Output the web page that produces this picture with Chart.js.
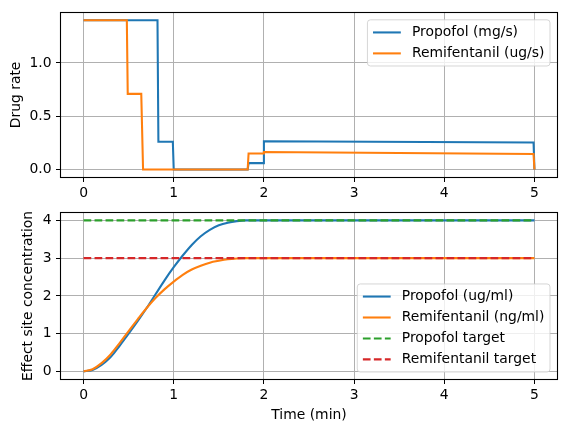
<!DOCTYPE html>
<html>
<head>
<meta charset="utf-8">
<script src="https://cdn.jsdelivr.net/npm/chart.js@4.4.0/dist/chart.umd.min.js"></script>
<style>
  html, body { margin: 0; padding: 0; background: #fff; }
  #wrap { position: relative; width: 567px; height: 432px; }
  canvas { position: absolute; left: 0; }
  #rateChart { top: 0; }
  #ceChart { top: 200px; }
</style>
</head>
<body>
<div id="wrap">
  <canvas id="rateChart" width="567" height="200"></canvas>
  <canvas id="ceChart" width="567" height="232"></canvas>
</div>
<script>
// --- Datos ---
const timeTicks = [0, 1, 2, 3, 4, 5];
const rateTicks = [0, 0.5, 1.0];
const ceTicks = [0, 1, 2, 3, 4];

// Tasas de infusion (escalones)
const propRateTime = [0, 0.82, 0.83, 0.99, 1.0, 1.82, 1.83, 1.99, 2.0, 4.99, 5.0];
const propRate     = [1.4, 1.4, 0.26, 0.26, 0, 0, 0.06, 0.06, 0.265, 0.253, 0];
const remiRateTime = [0, 0.48, 0.49, 0.64, 0.66, 1.82, 1.83, 1.99, 2.0, 4.99, 5.0];
const remiRate     = [1.4, 1.4, 0.71, 0.71, 0, 0, 0.15, 0.15, 0.165, 0.145, 0];

// Concentracion en sitio efecto
const ceTime = [0, 0.1, 0.2, 0.3, 0.4, 0.5, 0.6, 0.7, 0.8, 0.9, 1.0,
                1.1, 1.2, 1.3, 1.4, 1.5, 1.6, 1.7, 1.8, 1.9, 2.0, 5.0];
const propCe = [0, 0.04, 0.17, 0.38, 0.68, 1.0, 1.33, 1.68, 2.05, 2.42, 2.76,
                3.07, 3.35, 3.58, 3.75, 3.87, 3.94, 3.98, 4.0, 4.0, 4.0, 4.0];
const remiCe = [0, 0.06, 0.22, 0.45, 0.75, 1.07, 1.38, 1.68, 1.95, 2.18, 2.38,
                2.56, 2.70, 2.80, 2.88, 2.93, 2.97, 2.99, 3.0, 3.0, 3.0, 3.0];

const targetTime = [0, 5];
const propTarget = [4, 4];
const remiTarget = [3, 3];

const BLUE = '#1f77b4', ORANGE = '#ff7f0e', GREEN = '#2ca02c', RED = '#d62728';
const FONT_SIZE = 13.9;

Chart.defaults.font.family = '"DejaVu Sans", sans-serif';
Chart.defaults.font.size = FONT_SIZE;
Chart.defaults.color = '#000';

function zip(xs, ys) {
  return xs.map((x, i) => ({ x: x, y: ys[i] }));
}

// marco negro alrededor del area (como los spines de matplotlib)
const mplFrame = {
  id: 'mplFrame',
  afterDatasetsDraw(chart) {
    const { ctx, chartArea: a } = chart;
    ctx.save();
    ctx.strokeStyle = '#000';
    ctx.lineWidth = 1.1;
    ctx.strokeRect(Math.round(a.left) - 0.5, Math.round(a.top) - 0.5,
      Math.round(a.right - a.left) + 1, Math.round(a.bottom - a.top) + 1);
    ctx.restore();
  }
};

// leyenda dibujada dentro del area, estilo matplotlib
const mplLegend = {
  id: 'mplLegend',
  afterDraw(chart, args, opts) {
    const { ctx, chartArea: a } = chart;
    const sets = chart.data.datasets;
    const pad = 5.6, handle = 27.8, gap = 11.1, textH = 14, spacing = 6.95;
    ctx.save();
    ctx.font = FONT_SIZE + 'px "DejaVu Sans"';
    const textW = Math.max(...sets.map(d => ctx.measureText(d.label).width));
    const w = pad + handle + gap + textW + pad;
    const h = 2 * pad + sets.length * textH + (sets.length - 1) * spacing;
    const x0 = a.right - 7 - w;
    const y0 = opts.loc === 'upper right' ? a.top + 7 : a.bottom - 7 - h;

    ctx.beginPath();
    ctx.roundRect(x0, y0, w, h, 3);
    ctx.fillStyle = 'rgba(255,255,255,0.8)';
    ctx.fill();
    ctx.strokeStyle = 'rgba(204,204,204,0.8)';
    ctx.lineWidth = 1;
    ctx.stroke();

    sets.forEach((d, i) => {
      const cy = y0 + pad + textH / 2 + i * (textH + spacing);
      ctx.beginPath();
      ctx.setLineDash(d.borderDash || []);
      ctx.strokeStyle = d.borderColor;
      ctx.lineWidth = d.borderWidth;
      ctx.moveTo(x0 + pad, cy);
      ctx.lineTo(x0 + pad + handle, cy);
      ctx.stroke();
      ctx.setLineDash([]);
      ctx.fillStyle = '#000';
      ctx.textBaseline = 'middle';
      ctx.fillText(d.label, x0 + pad + handle + gap, cy);
    });
    ctx.restore();
  }
};

function lineSet(label, xs, ys, color, dashed, smooth, idx) {
  return {
    label: label,
    data: zip(xs, ys),
    borderColor: color,
    backgroundColor: color,
    borderWidth: 2.08,
    borderDash: dashed ? [7.7, 3.3] : [],
    pointRadius: 0,
    tension: 0,
    cubicInterpolationMode: smooth ? 'monotone' : 'default',
    fill: false,
    order: -idx // los ultimos encima, como en matplotlib
  };
}

function buildChart(id, datasets, cfg) {
  const ctx = document.getElementById(id);
  return new Chart(ctx, {
    type: 'line',
    data: { datasets: datasets },
    plugins: [mplFrame, mplLegend],
    options: {
      responsive: false,
      animation: false,
      layout: { padding: { top: cfg.padTop, right: 10, left: 0, bottom: 0 } },
      scales: {
        x: {
          type: 'linear',
          min: -0.25,
          max: 5.25,
          afterBuildTicks: axis => { axis.ticks = timeTicks.map(v => ({ value: v })); },
          afterFit: scale => { scale.height = cfg.xHeight; },
          ticks: { padding: 3, maxRotation: 0, callback: v => String(v) },
          grid: { color: '#b0b0b0', lineWidth: 1, tickColor: '#000', tickLength: 5 },
          border: { display: false },
          title: {
            display: !!cfg.xTitle,
            text: cfg.xTitle || '',
            padding: { top: 0, bottom: 8.7 }
          }
        },
        y: {
          type: 'linear',
          min: cfg.yMin,
          max: cfg.yMax,
          afterBuildTicks: axis => { axis.ticks = cfg.yTicks.map(v => ({ value: v })); },
          afterFit: scale => { scale.width = 61; },
          ticks: { padding: 4.5, callback: cfg.yFormat },
          grid: { color: '#b0b0b0', lineWidth: 1, tickColor: '#000', tickLength: 5 },
          border: { display: false },
          title: {
            display: true,
            text: cfg.yTitle,
            padding: { top: cfg.yTitlePad, bottom: 0 }
          }
        }
      },
      plugins: {
        legend: { display: false },
        tooltip: { enabled: false },
        mplLegend: { loc: cfg.legendLoc }
      }
    }
  });
}

buildChart('rateChart', [
  lineSet('Propofol (mg/s)', propRateTime, propRate, BLUE, false, false, 0),
  lineSet('Remifentanil (ug/s)', remiRateTime, remiRate, ORANGE, false, false, 1)
], {
  padTop: 9, xHeight: 23, yMin: -0.07, yMax: 1.47, yTicks: rateTicks,
  yFormat: v => v.toFixed(1), yTitle: 'Drug rate', yTitlePad: 7.7,
  legendLoc: 'upper right'
});

buildChart('ceChart', [
  lineSet('Propofol (ug/ml)', ceTime, propCe, BLUE, false, true, 0),
  lineSet('Remifentanil (ng/ml)', ceTime, remiCe, ORANGE, false, true, 1),
  lineSet('Propofol target', targetTime, propTarget, GREEN, true, false, 2),
  lineSet('Remifentanil target', targetTime, remiTarget, RED, true, false, 3)
], {
  padTop: 11, xHeight: 53, yMin: -0.2, yMax: 4.2, yTicks: ceTicks,
  yFormat: v => String(v), yTitle: 'Effect site concentration', yTitlePad: 20.2,
  xTitle: 'Time (min)', legendLoc: 'lower right'
});
</script>
</body>
</html>
